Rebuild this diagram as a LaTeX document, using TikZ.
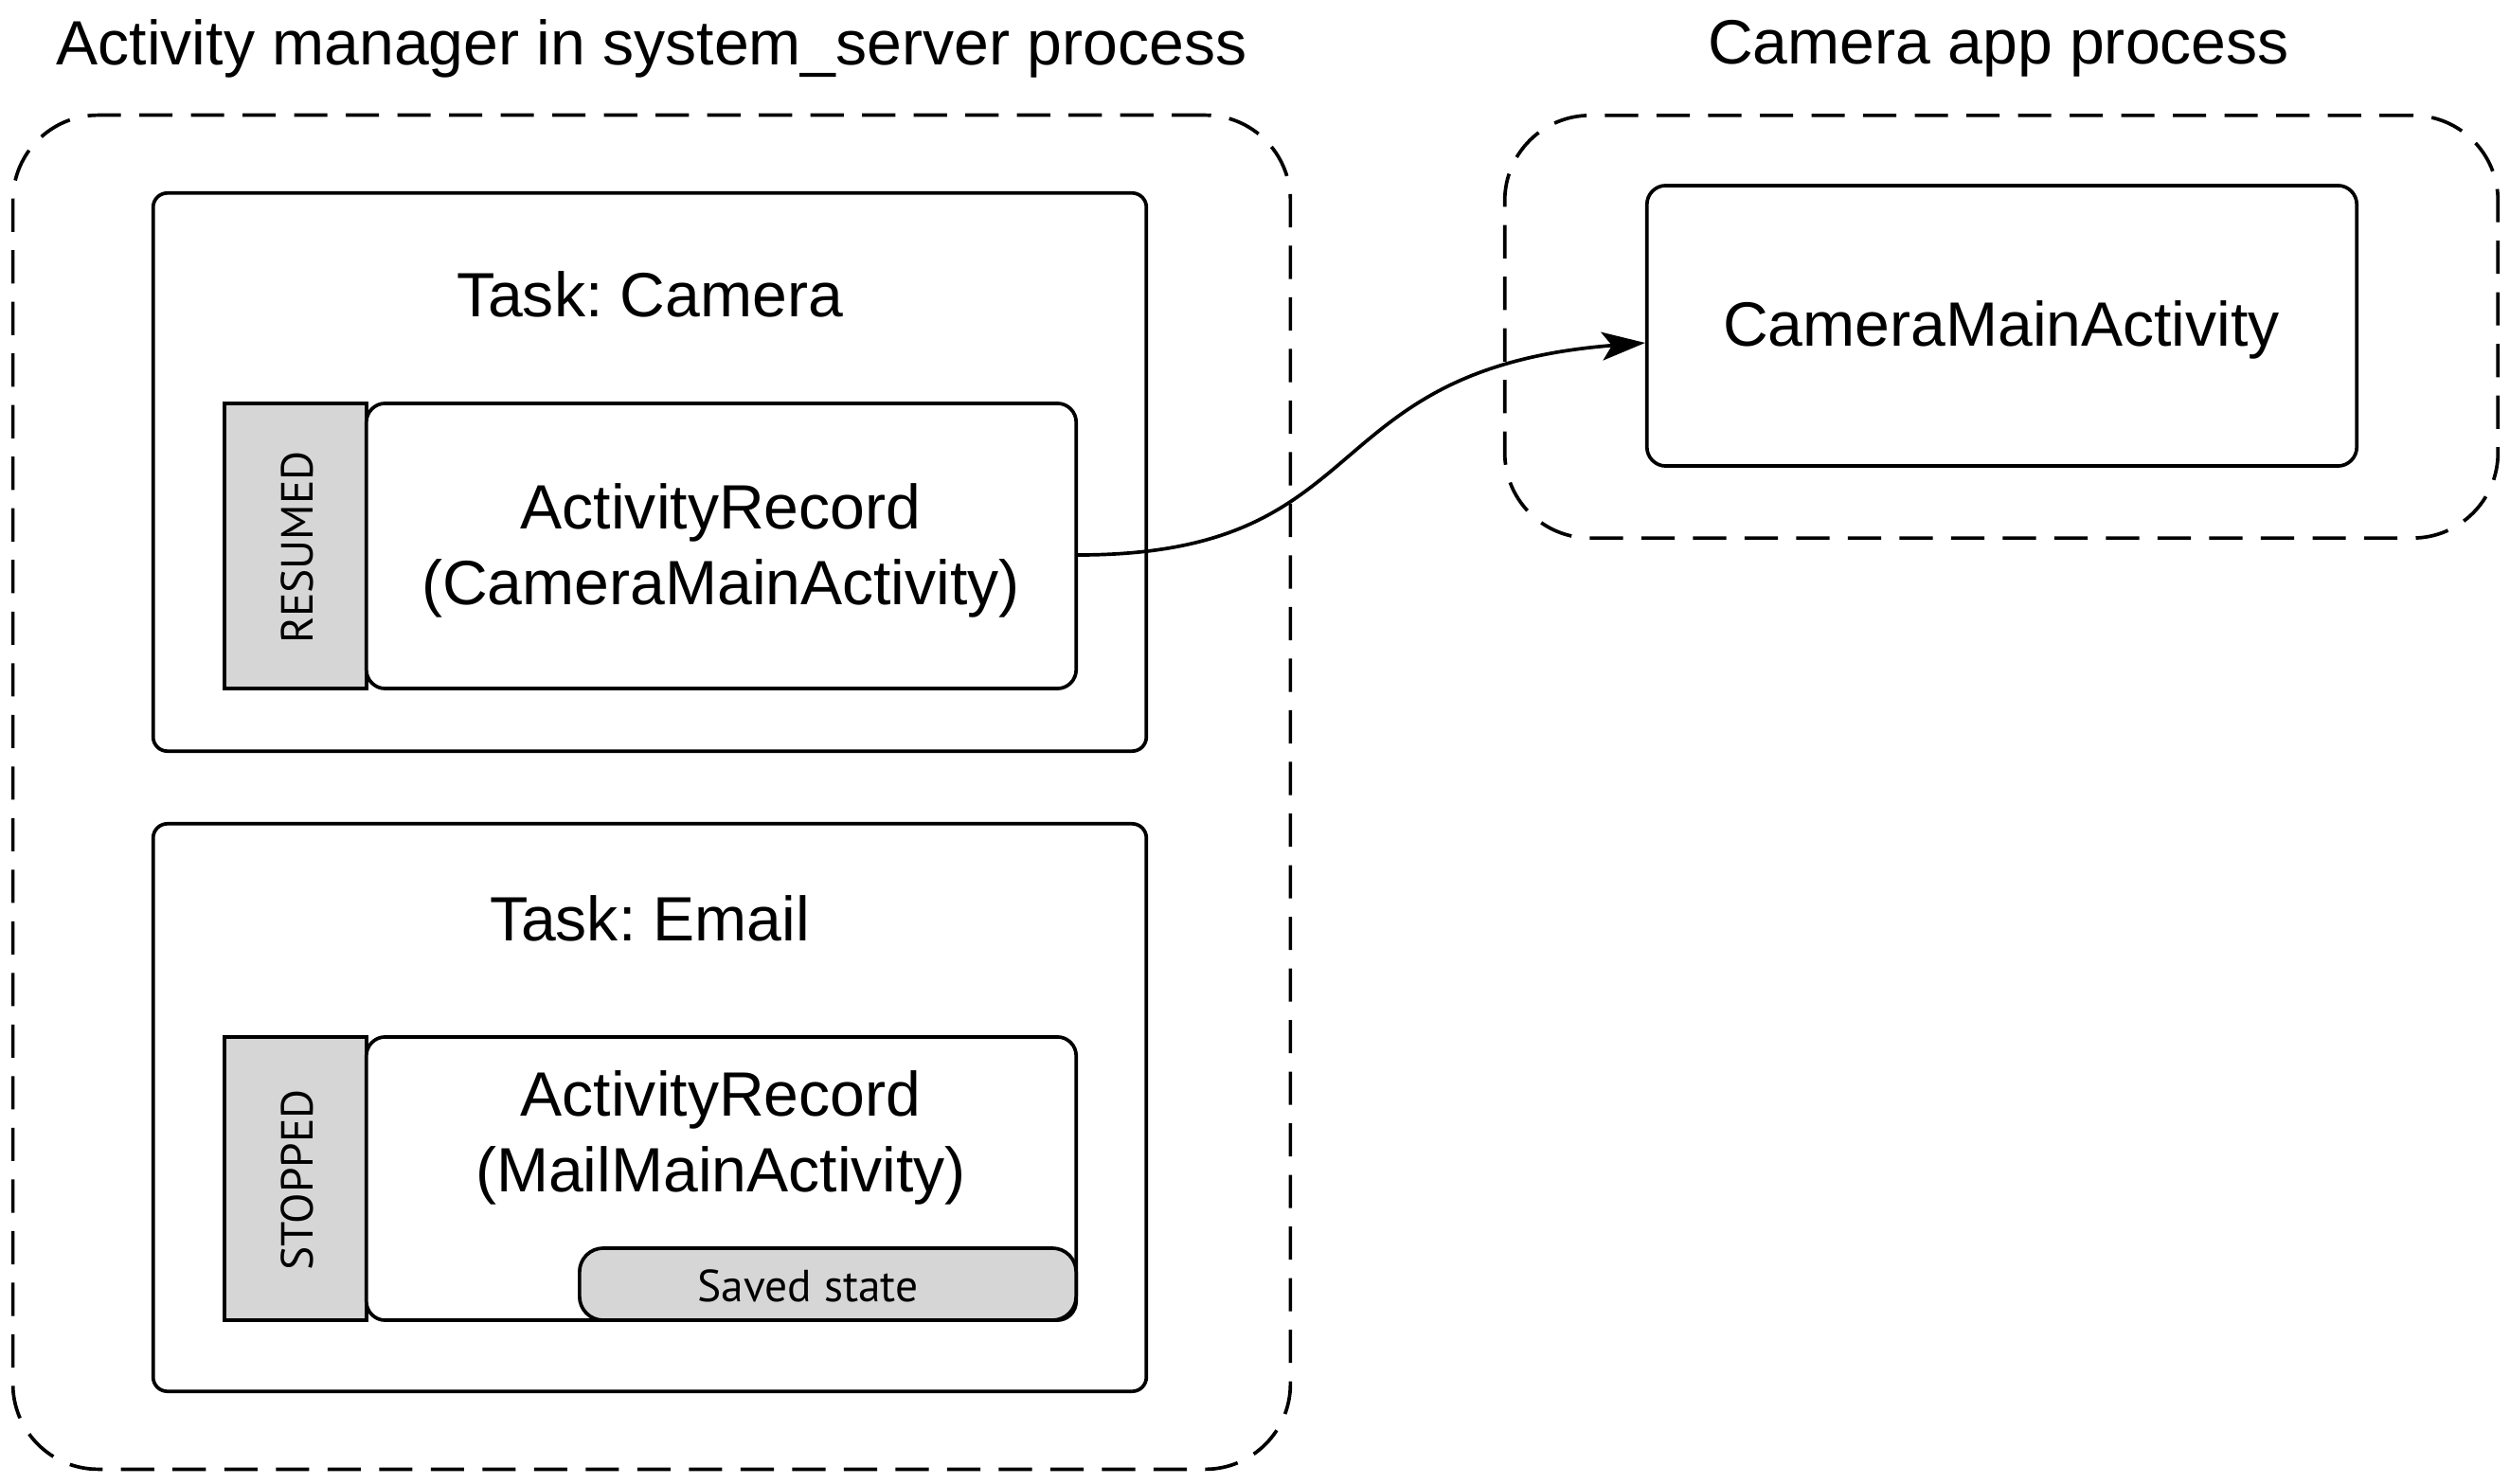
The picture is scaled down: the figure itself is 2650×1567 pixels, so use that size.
\documentclass[tikz,border=0pt]{standalone}
\usepackage{fontspec}
\setmainfont{Liberation Sans}
\newfontfamily\tagfont{PT Sans}
\usetikzlibrary{arrows.meta}
\frenchspacing
\begin{document}
\begin{tikzpicture}[x=0.01cm, y=-0.01cm,
  big/.style={font=\fontsize{18.8}{22.8}\selectfont, align=center, inner sep=0pt},
  small/.style={font=\tagfont\fontsize{13.5}{15}\selectfont, inner sep=0pt},
  process/.style={draw, line width=1.05pt, dash pattern=on 10pt off 5.5pt, rounded corners=0.9cm, inner sep=0pt},
  taskbox/.style={draw, line width=1.05pt, rounded corners=0.15cm, inner sep=0pt},
  recbox/.style={draw, line width=1.05pt, rounded corners=0.2cm, fill=white, inner sep=0pt},
  statebox/.style={draw, line width=1.05pt, fill=black!16, inner sep=0pt},
  savedbox/.style={draw, line width=1.05pt, fill=black!16, rounded corners=0.25cm, inner sep=0pt},
  link/.style={line width=1.05pt, -{Stealth[length=13pt, width=8.5pt, inset=3pt]}}]
  \useasboundingbox (0,0) rectangle (2650,1567);

  % process containers
  \node[process, minimum width=13.48cm, minimum height=14.29cm] (sysproc) at (688,836.5) {};
  \node[process, minimum width=10.48cm, minimum height=4.46cm] (camproc) at (2113,345) {};
  \node[big] (systitle) at (688,51) {Activity manager in system\_server process};
  \node[big] (camtitle) at (2110,51) {Camera app process};

  % task: camera
  \node[taskbox, minimum width=10.48cm, minimum height=5.89cm] (taskcam) at (686,498.5) {};
  \node[big] (taskcamlbl) at (686,311) {Task: Camera};
  \node[statebox, minimum width=1.50cm, minimum height=3.01cm] (resumed) at (312,576.5) {};
  \node[small, rotate=90] (resumedlbl) at (314,578) {RESUMED};
  \node[recbox, minimum width=7.49cm, minimum height=3.01cm] (reccam) at (761.5,576.5) {};
  \node[big] (reccamlbl) at (761,581) {ActivityRecord\\(CameraMainActivity)};

  % task: email
  \node[taskbox, minimum width=10.48cm, minimum height=5.99cm] (taskmail) at (686,1169.5) {};
  \node[big] (taskmaillbl) at (686,970) {Task: Email};
  \node[statebox, minimum width=1.50cm, minimum height=2.99cm] (stopped) at (312,1244.5) {};
  \node[small, rotate=90] (stoppedlbl) at (314,1246) {STOPPED};
  \node[recbox, minimum width=7.49cm, minimum height=2.99cm] (recmail) at (761.5,1244.5) {};
  \node[big] (recmaillbl) at (761,1201) {ActivityRecord\\(MailMainActivity)};
  \node[savedbox, minimum width=5.24cm, minimum height=0.76cm] (saved) at (874,1356) {};
  \node[small] (savedlbl) at (853,1358) {Saved state};

  % camera app activity
  \node[recbox, minimum width=7.49cm, minimum height=2.96cm] (camact) at (2113.5,344) {};
  \node[big] (camactlbl) at (2113,348) {CameraMainActivity};

  % record -> live activity
  \draw[link] ([yshift=-0.095cm]reccam.east) .. controls +(320,0) and +(-355,28) .. ([yshift=-0.18cm]camact.west);
\end{tikzpicture}
\end{document}
